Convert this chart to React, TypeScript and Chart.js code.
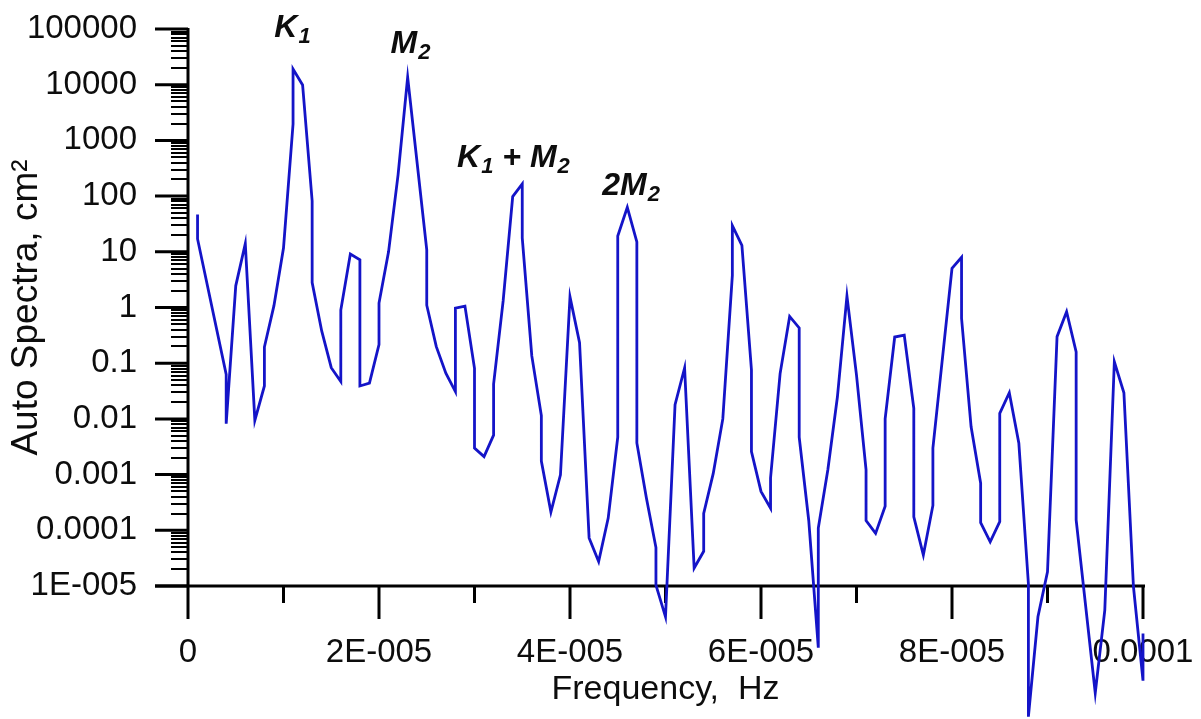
import React, { useEffect, useRef } from "react";
import { Chart, registerables } from "chart.js";

Chart.register(...registerables);

// ---- data (frequency in Hz, auto spectra in cm^2) ----
const frequencies = [
  1e-6, 1e-6, 4e-6, 4e-6, 5e-6, 6e-6, 7e-6, 8e-6, 8e-6, 9e-6,
  10e-6, 11e-6, 11e-6, 12e-6, 13e-6, 13e-6, 14e-6, 15e-6, 16e-6, 16e-6,
  17e-6, 18e-6, 18e-6, 19e-6, 20e-6, 20e-6, 21e-6, 22e-6, 23e-6, 25e-6,
  25e-6, 26e-6, 27e-6, 28e-6, 28e-6, 29e-6, 30e-6, 30e-6, 31e-6, 32e-6,
  32e-6, 33e-6, 34e-6, 35e-6, 35e-6, 36e-6, 37e-6, 37e-6, 38e-6, 39e-6,
  40e-6, 41e-6, 42e-6, 43e-6, 44e-6, 45e-6, 45e-6, 46e-6, 47e-6, 47e-6,
  48e-6, 49e-6, 49e-6, 50e-6, 51e-6, 52e-6, 53e-6, 54e-6, 54e-6, 55e-6,
  56e-6, 57e-6, 57e-6, 58e-6, 59e-6, 59e-6, 60e-6, 61e-6, 61e-6, 62e-6,
  63e-6, 64e-6, 64e-6, 65e-6, 66e-6, 66e-6, 67e-6, 68e-6, 69e-6, 70e-6,
  71e-6, 71e-6, 72e-6, 73e-6, 73e-6, 74e-6, 75e-6, 76e-6, 76e-6, 77e-6,
  78e-6, 78e-6, 80e-6, 81e-6, 81e-6, 82e-6, 83e-6, 83e-6, 84e-6, 85e-6,
  85e-6, 86e-6, 87e-6, 88e-6, 88e-6, 89e-6, 90e-6, 91e-6, 92e-6, 93e-6,
  93e-6, 95e-6, 96e-6, 97e-6, 98e-6, 99e-6, 100e-6, 100e-6,
];

const spectra = [
  46.6, 17, 0.063, 0.0082, 2.45, 14, 0.0094, 0.039, 0.195, 1.08,
  11.7, 1970, 19100, 9880, 81.7, 2.8, 0.38, 0.083, 0.047, 0.9,
  9.1, 7.2, 0.039, 0.044, 0.215, 1.2, 10, 243, 13600, 10.8,
  1.1, 0.198, 0.066, 0.031, 0.97, 1.06, 0.081, 0.003, 0.0021, 0.0051,
  0.042, 1.31, 98, 165, 17.7, 0.135, 0.0115, 0.00175, 0.000213, 0.00099,
  1.55, 0.234, 7.3e-5, 2.75e-5, 0.000166, 0.0047, 19.2, 63, 15, 0.0037,
  0.00038, 4.9e-5, 1.04e-5, 2.8e-6, 0.018, 0.082, 2.1e-5, 4.2e-5, 0.0002, 0.00105,
  0.01, 3.77, 29.5, 13.1, 0.076, 0.0026, 0.0005, 0.00025, 0.00087, 0.065,
  0.69, 0.43, 0.0047, 0.00015, 7.8e-7, 0.00011, 0.00122, 0.0247, 1.61, 0.061,
  0.00122, 0.00015, 8.8e-5, 0.00027, 0.01, 0.295, 0.32, 0.0155, 0.000175, 3.6e-5,
  0.00028, 0.003, 5.06, 7.97, 0.64, 0.0072, 0.0007, 0.000137, 6.2e-5, 0.000143,
  0.0126, 0.0295, 0.00365, 1.1e-5, 4.5e-8, 2.8e-6, 1.8e-5, 0.3, 0.84, 0.16,
  0.000153, 1.2e-7, 3.7e-6, 0.106, 0.0295, 9.7e-6, 2e-7, 1.4e-6,
];

// ---- axes ----
const yTickValues = [1e5, 1e4, 1e3, 1e2, 10, 1, 0.1, 0.01, 0.001, 0.0001, 1e-5];
const yTickLabels = ["100000", "10000", "1000", "100", "10", "1", "0.1", "0.01", "0.001", "0.0001", "1E-005"];
const yMinorMultipliers = [2, 3, 4, 5, 6, 7, 8, 9];
const xTickValues = [0, 2e-5, 4e-5, 6e-5, 8e-5, 1e-4];
const xTickLabels = ["0", "2E-005", "4E-005", "6E-005", "8E-005", "0.0001"];
const xMinorTicks = [1e-5, 3e-5, 5e-5, 7e-5, 9e-5];

// ---- peak labels ----
const peakLabelFreqs = [1.094e-5, 2.33e-5, 3.408e-5, 4.639e-5];
const peakLabelValues = [7.2e4, 3.7e4, 333, 105];
const peakLabelParts = [
  [{ t: "K", sub: false }, { t: "1", sub: true }],
  [{ t: "M", sub: false }, { t: "2", sub: true }],
  [{ t: "K", sub: false }, { t: "1", sub: true }, { t: " + ", sub: false }, { t: "M", sub: false }, { t: "2", sub: true }],
  [{ t: "2M", sub: false }, { t: "2", sub: true }],
];

const FONT = '"Liberation Sans", Arial, sans-serif';
const TEXT_COLOR = "#0d0d0d";
const LINE_COLOR = "#1414c8";

function findLabel(values: number[], labels: string[], v: number): string {
  for (let i = 0; i < values.length; i++) {
    const a = values[i];
    if (Math.abs(a - v) <= Math.abs(a) * 1e-6 + 1e-12) return labels[i];
  }
  return "";
}

const axesPlugin = {
  id: "customAxes",
  beforeDatasetsDraw(chart: any) {
    const { ctx, chartArea } = chart;
    const xs = chart.scales.x;
    const ys = chart.scales.y;
    const x0 = chartArea.left;
    const yb = chartArea.bottom;
    ctx.save();
    ctx.strokeStyle = "#000";
    ctx.lineCap = "butt";
    ctx.lineWidth = 3;
    ctx.beginPath();
    ctx.moveTo(x0, ys.getPixelForValue(yTickValues[0]) - 1);
    ctx.lineTo(x0, yb);
    ctx.stroke();
    for (const v of yTickValues) {
      const py = ys.getPixelForValue(v);
      ctx.beginPath();
      ctx.moveTo(x0 - 33, py);
      ctx.lineTo(x0, py);
      ctx.stroke();
    }
    ctx.lineWidth = 2;
    for (let i = 1; i < yTickValues.length; i++) {
      const d = yTickValues[i];
      for (const m of yMinorMultipliers) {
        const py = Math.round(ys.getPixelForValue(d * m));
        ctx.beginPath();
        ctx.moveTo(x0 - 17, py);
        ctx.lineTo(x0, py);
        ctx.stroke();
      }
    }
    ctx.lineWidth = 3;
    ctx.beginPath();
    ctx.moveTo(x0 - 33, yb);
    ctx.lineTo(xs.getPixelForValue(xTickValues[xTickValues.length - 1]) + 2, yb);
    ctx.stroke();
    for (const v of xTickValues) {
      const px = xs.getPixelForValue(v);
      ctx.beginPath();
      ctx.moveTo(px, yb);
      ctx.lineTo(px, yb + 33);
      ctx.stroke();
    }
    for (const v of xMinorTicks) {
      const px = xs.getPixelForValue(v);
      ctx.beginPath();
      ctx.moveTo(px, yb);
      ctx.lineTo(px, yb + 17);
      ctx.stroke();
    }
    ctx.restore();
  },
};

const peakLabelPlugin = {
  id: "peakLabels",
  afterDatasetsDraw(chart: any) {
    const { ctx } = chart;
    const xs = chart.scales.x;
    const ys = chart.scales.y;
    const mainFont = `italic bold 32px ${FONT}`;
    const subFont = `italic bold 22px ${FONT}`;
    ctx.save();
    ctx.fillStyle = TEXT_COLOR;
    ctx.textBaseline = "alphabetic";
    ctx.textAlign = "left";
    for (let i = 0; i < peakLabelParts.length; i++) {
      const parts = peakLabelParts[i];
      const cx = xs.getPixelForValue(peakLabelFreqs[i]);
      const by = ys.getPixelForValue(peakLabelValues[i]);
      let w = 0;
      for (const p of parts) {
        ctx.font = p.sub ? subFont : mainFont;
        w += ctx.measureText(p.t).width + (p.sub ? 1 : 0);
      }
      let px = cx - w / 2;
      for (const p of parts) {
        ctx.font = p.sub ? subFont : mainFont;
        ctx.fillText(p.t, p.sub ? px + 1 : px, p.sub ? by + 6 : by);
        px += ctx.measureText(p.t).width + (p.sub ? 1 : 0);
      }
    }
    ctx.restore();
  },
};

const whiteBg = {
  id: "whiteBg",
  beforeDraw(chart: any) {
    const { ctx, width, height } = chart;
    ctx.save();
    ctx.fillStyle = "#fff";
    ctx.fillRect(0, 0, width, height);
    ctx.restore();
  },
};

export default function App() {
  const canvasRef = useRef<HTMLCanvasElement | null>(null);

  useEffect(() => {
    if (!canvasRef.current) return;
    const points = frequencies.map((f, i) => ({ x: f, y: spectra[i] }));
    const chart = new Chart(canvasRef.current, {
      type: "line",
      data: {
        datasets: [
          {
            data: points,
            borderColor: LINE_COLOR,
            borderWidth: 2.8,
            pointRadius: 0,
            fill: false,
            tension: 0,
            clip: false,
          } as any,
        ],
      },
      options: {
        animation: false,
        responsive: false,
        devicePixelRatio: 1,
        events: [],
        layout: { padding: { top: 29, right: 58, left: 0, bottom: 0 } },
        plugins: {
          legend: { display: false },
          tooltip: { enabled: false },
        },
        scales: {
          x: {
            type: "linear",
            min: 0,
            max: 1e-4,
            grid: { display: false, drawTicks: true, tickLength: 47 },
            border: { display: false },
            afterBuildTicks: (scale: any) => {
              scale.ticks = xTickValues.map((v) => ({ value: v }));
            },
            afterFit: (scale: any) => {
              scale.height = 133;
              scale.paddingLeft = 0;
              scale.paddingRight = 0;
            },
            ticks: {
              autoSkip: false,
              maxRotation: 0,
              minRotation: 0,
              padding: 0,
              color: TEXT_COLOR,
              font: { family: FONT, size: 33 },
              callback: (v: any) => findLabel(xTickValues, xTickLabels, Number(v)),
            },
            title: {
              display: true,
              text: "Frequency,  Hz",
              color: TEXT_COLOR,
              font: { family: FONT, size: 34 },
              padding: { top: 0, bottom: 9 },
            },
          },
          y: {
            type: "logarithmic",
            min: 1e-5,
            max: 1e5,
            grid: { display: false, drawTicks: true, tickLength: 51 },
            border: { display: false },
            afterBuildTicks: (scale: any) => {
              scale.ticks = yTickValues.map((v) => ({ value: v }));
            },
            afterFit: (scale: any) => {
              scale.width = 188;
              scale.paddingTop = 0;
              scale.paddingBottom = 0;
            },
            ticks: {
              autoSkip: false,
              padding: 0,
              color: TEXT_COLOR,
              font: { family: FONT, size: 33 },
              callback: (v: any) => findLabel(yTickValues, yTickLabels, Number(v)),
            },
            title: {
              display: true,
              text: "Auto Spectra, cm²",
              color: TEXT_COLOR,
              font: { family: FONT, size: 37 },
              padding: { top: 5, bottom: 0 },
            },
          },
        },
      },
      plugins: [whiteBg, axesPlugin, peakLabelPlugin],
    });
    return () => chart.destroy();
  }, []);

  return (
    <div style={{ position: "fixed", left: 0, top: 0, width: 1201, height: 719, background: "#fff" }}>
      <canvas ref={canvasRef} width={1201} height={719} style={{ display: "block" }} />
    </div>
  );
}
